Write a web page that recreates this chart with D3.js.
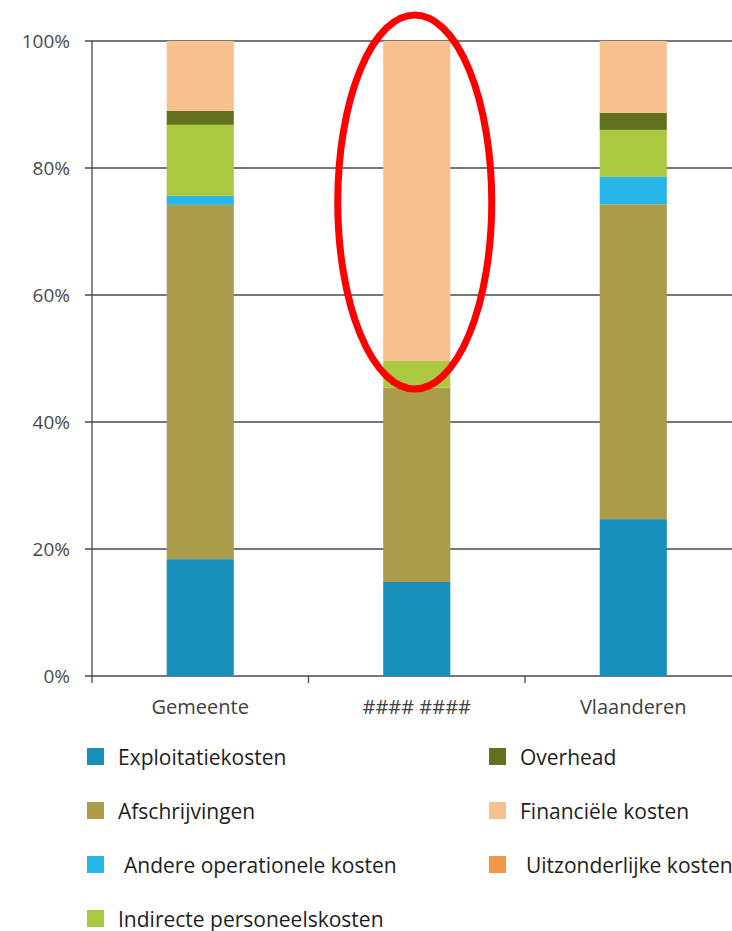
<!DOCTYPE html>
<html>
<head>
<meta charset="utf-8">
<script src="https://cdn.jsdelivr.net/npm/d3@7"></script>
<style>
  body { margin: 0; background: #fff; overflow: hidden; }
  text { font-family: "Open Sans", "DejaVu Sans", sans-serif; }
</style>
</head>
<body>
<div id="chart"></div>
<script>
// data (percent of total cost)
const categories = ["Gemeente", "#### ####", "Vlaanderen"];
const seriesNames = ["Exploitatiekosten", "Afschrijvingen", "Andere operationele kosten",
  "Indirecte personeelskosten", "Overhead", "Financiële kosten", "Uitzonderlijke kosten"];
const seriesColors = ["#1790bb", "#ab9c4b", "#28b5e8", "#abc940", "#63701e", "#f8bf8f", "#f79645"];
const exploitatie = [18.4, 14.8, 24.7];
const afschrijvingen = [55.8, 30.6, 49.6];
const andere = [1.4, 0, 4.3];
const indirecte = [11.2, 4.2, 7.4];
const overhead = [2.2, 0, 2.7];
const financiele = [11.0, 50.4, 11.3];
const uitzonderlijk = [0, 0, 0];
const yTicks = [0, 20, 40, 60, 80, 100];

const seriesValues = [exploitatie, afschrijvingen, andere, indirecte, overhead, financiele, uitzonderlijk];

const width = 732, height = 931;
const margin = {top: 41, left: 92};
const plotH = 635;
const bandW = 216.5;

const svg = d3.select("#chart").append("svg")
    .attr("width", width)
    .attr("height", height);

const rows = categories.map(function(c, i) {
  const r = {cat: c};
  seriesNames.forEach(function(s, j) { r[s] = seriesValues[j][i]; });
  return r;
});

const stack = d3.stack().keys(seriesNames);
const stacked = stack(rows);

const x = d3.scaleBand()
    .domain(categories)
    .range([margin.left, margin.left + bandW * categories.length])
    .paddingInner(0.69)
    .paddingOuter(0.345);

const y = d3.scaleLinear()
    .domain([0, 100])
    .range([margin.top + plotH, margin.top]);

// gridlines
svg.append("g")
  .selectAll("line")
  .data(yTicks)
  .enter().append("line")
    .attr("x1", margin.left - 7)
    .attr("x2", width)
    .attr("y1", d => y(d))
    .attr("y2", d => y(d))
    .style("stroke", "#4a4a4a")
    .style("stroke-width", 1.3);

// y axis labels
svg.append("g")
  .selectAll("text")
  .data(yTicks)
  .enter().append("text")
    .attr("x", 70)
    .attr("y", d => y(d) + 7)
    .attr("text-anchor", "end")
    .style("font-size", "19px")
    .style("fill", "#4a4a4a")
    .text(d => d + "%");

// bars
svg.append("g")
  .selectAll("g")
  .data(stacked)
  .enter().append("g")
    .style("fill", (d, i) => seriesColors[i])
  .selectAll("rect")
  .data(d => d)
  .enter().append("rect")
    .attr("x", d => x(d.data.cat))
    .attr("width", x.bandwidth())
    .attr("y", d => y(d[1]))
    .attr("height", d => y(d[0]) - y(d[1]));

// axes lines
svg.append("line")
    .attr("x1", margin.left).attr("x2", margin.left)
    .attr("y1", y(100)).attr("y2", y(0) + 7)
    .style("stroke", "#4a4a4a").style("stroke-width", 1.3);

svg.append("g")
  .selectAll("line")
  .data([1, 2, 3])
  .enter().append("line")
    .attr("x1", d => margin.left + d * bandW)
    .attr("x2", d => margin.left + d * bandW)
    .attr("y1", y(0)).attr("y2", y(0) + 7)
    .style("stroke", "#4a4a4a").style("stroke-width", 1.3);

// category labels
svg.append("g")
  .selectAll("text")
  .data(categories)
  .enter().append("text")
    .attr("x", d => x(d) + x.bandwidth() / 2)
    .attr("y", 714)
    .attr("text-anchor", "middle")
    .style("font-size", "20px")
    .style("fill", "#404040")
    .text(d => d);

// red highlight ellipse around the second bar
svg.append("ellipse")
    .attr("cx", x(categories[1]) + x.bandwidth() / 2 - 2)
    .attr("cy", 202)
    .attr("rx", 77)
    .attr("ry", 187)
    .style("fill", "none")
    .style("stroke", "#ff0000")
    .style("stroke-width", 7);

// legend, two columns
const legendPos = [
  [87, 757], [87, 811], [87, 865], [87, 919],
  [489, 757], [489, 811], [489, 865]
];
const legendPad = ["", "", " ", "", "", "", " "];

const legend = svg.append("g")
  .selectAll("g")
  .data(seriesNames)
  .enter().append("g")
    .attr("transform", (d, i) => "translate(" + legendPos[i][0] + "," + legendPos[i][1] + ")");

legend.append("rect")
    .attr("x", 0).attr("y", -9)
    .attr("width", 17).attr("height", 17)
    .style("fill", (d, i) => seriesColors[i]);

legend.append("text")
    .attr("x", (d, i) => legendPad[i] ? 37 : 31)
    .attr("y", 8)
    .style("font-size", "21px")
    .style("fill", "#1e1e1e")
    .text(d => d);
</script>
</body>
</html>
